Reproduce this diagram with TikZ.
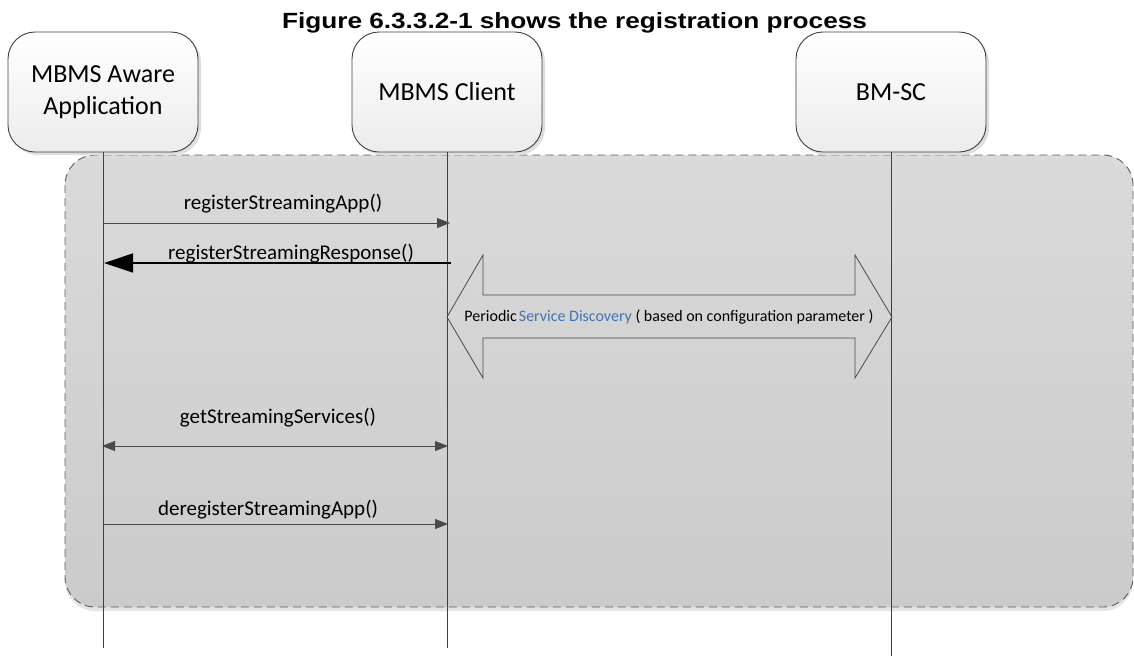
\documentclass[tikz,border=0pt]{standalone}
\usepackage{fontspec}
\setmainfont{Carlito}
\newfontfamily\titlefont[FakeStretch=1.19]{Liberation Sans}
\usetikzlibrary{arrows.meta}
\definecolor{edge}{HTML}{404040}
\definecolor{msgc}{HTML}{4A4A4A}
\definecolor{sdblue}{HTML}{4472B0}
\definecolor{bgtop}{HTML}{DADADA}
\definecolor{bgbot}{HTML}{CBCBCB}
\definecolor{boxbot}{HTML}{ECECEC}
\tikzset{
  actor/.style={draw=edge, line width=0.9pt, rounded corners=27pt, minimum width=190pt, minimum height=120pt,
     top color=white, bottom color=boxbot, align=center, font=\fontsize{26}{32}\selectfont, inner sep=0pt},
  actshadow/.style={fill=black!13, rounded corners=27pt},
  lifeline/.style={draw=edge, line width=0.8pt},
  msg/.style={draw=msgc, line width=0.9pt, -{Triangle[length=13pt,width=10pt]}, color=msgc},
  dmsg/.style={draw=msgc, line width=0.9pt, {Triangle[length=13pt,width=10pt]}-{Triangle[length=13pt,width=10pt]}, color=msgc},
  resp/.style={draw=black, line width=1.4pt, -{Triangle[length=29pt,width=19pt]}},
  lbl/.style={anchor=base, font=\fontsize{21}{25}\selectfont, inner sep=0pt},
}
\begin{document}
\begin{tikzpicture}[x=1pt,y=-1pt]
\useasboundingbox (0,0) rectangle (1134,657);
% title
\node[anchor=base, inner sep=0pt, font=\titlefont\bfseries\fontsize{22}{26}\selectfont] (title) at (574.5,28) {Figure 6.3.3.2-1 shows the registration process};
% grey region
\fill[black!10, rounded corners=30pt] (65,159) rectangle (1133,611);
\shade[top color=bgtop, bottom color=bgbot, rounded corners=30pt] (65,155) rectangle (1133,607);
\draw[draw=edge!85, line width=0.9pt, dash pattern=on 8pt off 5pt, rounded corners=30pt] (65,155) rectangle (1133,607);
% actor shadows
\fill[actshadow] (11,35) rectangle (201,155);
\fill[actshadow] (355,35) rectangle (545,155);
\fill[actshadow] (799,35) rectangle (989,155);
% actors
\node[actor] (app) at (103,92) {MBMS Aware\\Application};
\node[actor] (client) at (447,92) {MBMS Client};
\node[actor] (bmsc) at (891,92) {BM-SC};
% lifeline ends
\coordinate (appEnd) at (103,648);
\coordinate (clientEnd) at (447,648);
\coordinate (bmscEnd) at (891,656);
\draw[lifeline] (app.south) -- (appEnd);
\draw[lifeline] (client.south) -- (clientEnd);
\draw[lifeline] (bmsc.south) -- (bmscEnd);
% message anchor points
\coordinate (a1) at (103,223); \coordinate (c1) at (450,223);
\coordinate (c2) at (451,263); \coordinate (a2) at (104,263);
\coordinate (a3) at (102,446); \coordinate (c3) at (448,446);
\coordinate (a4) at (103,524); \coordinate (c4) at (448,524);
\draw[msg] (a1) -- (c1);
\node[lbl] (l1) at (283,209) {registerStreamingApp()};
\draw[resp] (c2) -- (a2);
\node[lbl] (l2) at (291,259) {registerStreamingResponse()};
\draw[dmsg] (a3) -- (c3);
\node[lbl] (l3) at (278,423) {getStreamingServices()};
\draw[msg] (a4) -- (c4);
\node[lbl] (l4) at (268,515) {deregisterStreamingApp()};
% block double arrow
\draw[draw=msgc, line width=0.8pt, line join=miter]
  (447,317) -- (483,255) -- (483,295) -- (855,295) -- (855,255) -- (892,317)
  -- (855,378) -- (855,338) -- (483,338) -- (483,378) -- cycle;
\node[anchor=base, inner sep=0pt, font=\fontsize{16}{19}\selectfont] (sd) at (669,321)
  {Periodic\hspace{2pt}\textcolor{sdblue}{Service Discovery} ( based on configuration parameter )};
\end{tikzpicture}
\end{document}
